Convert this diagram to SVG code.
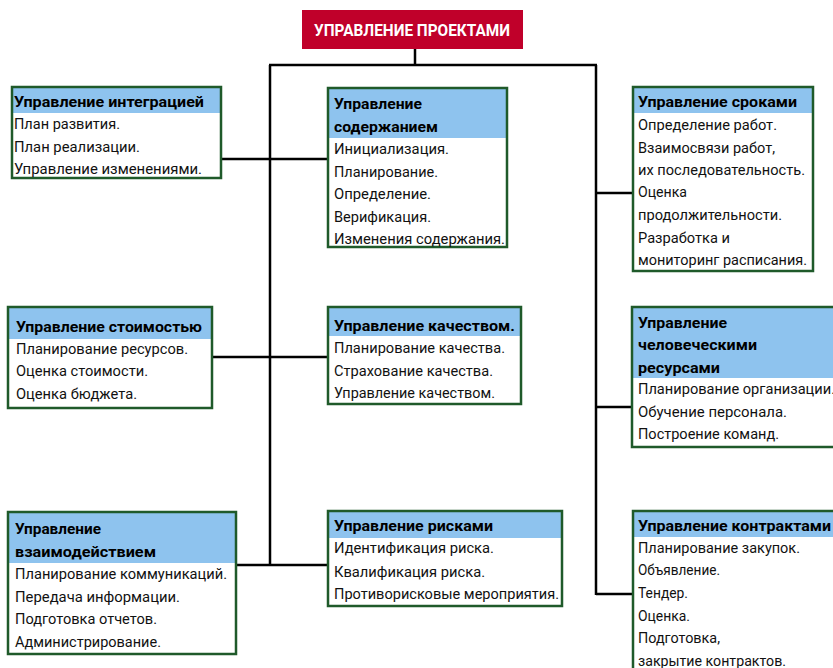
<svg xmlns="http://www.w3.org/2000/svg" width="833" height="668" viewBox="0 0 833 668">
<style>
.bg{fill:#ffffff}
.hd{fill:#8ec3ee}
.bd{fill:none;stroke:#1f5a2a;stroke-width:2.5}
.ln{fill:none;stroke:#000;stroke-width:2.5}
text{font-family:Roboto,"Liberation Sans",sans-serif;font-size:14px;fill:#111}
.h{font-weight:bold;fill:#000}
.ttl{font-weight:bold;font-size:17px;fill:#fff}
</style>
<rect x="0" y="0" width="833" height="668" fill="#fff"/>
<g id="connectors">
<path class="ln" d="M415 49V65M269 65H597M270 65V566M596 65V595M221 159H328M212 357H328M236 565H328M596 193H633M596 407H632M596 594H633"/>
</g>
<g id="title">
<rect x="302" y="10" width="221" height="39" fill="#c0002a"/>
<text class="ttl" x="314" y="36" textLength="196" lengthAdjust="spacingAndGlyphs">УПРАВЛЕНИЕ ПРОЕКТАМИ</text>
</g>
<g id="integration">
<rect class="bg" x="12" y="87" width="209" height="91"/>
<rect class="hd" x="12" y="87" width="209" height="26"/>
<rect class="bd" x="12" y="87" width="209" height="91"/>
<text class="h" x="14" y="107" textLength="190" lengthAdjust="spacingAndGlyphs">Управление интеграцией</text>
<text x="14" y="129" textLength="106" lengthAdjust="spacingAndGlyphs">План развития.</text>
<text x="14" y="152" textLength="126" lengthAdjust="spacingAndGlyphs">План реализации.</text>
<text x="14" y="174" textLength="188" lengthAdjust="spacingAndGlyphs">Управление изменениями.</text>
</g>
<g id="content">
<rect class="bg" x="328" y="88" width="179" height="159"/>
<rect class="hd" x="328" y="88" width="179" height="50"/>
<rect class="bd" x="328" y="88" width="179" height="159"/>
<text class="h" x="334" y="109" textLength="88" lengthAdjust="spacingAndGlyphs">Управление</text>
<text class="h" x="334" y="132" textLength="104" lengthAdjust="spacingAndGlyphs">содержанием</text>
<text x="334" y="154" textLength="115" lengthAdjust="spacingAndGlyphs">Инициализация.</text>
<text x="334" y="177" textLength="104" lengthAdjust="spacingAndGlyphs">Планирование.</text>
<text x="334" y="199" textLength="97" lengthAdjust="spacingAndGlyphs">Определение.</text>
<text x="334" y="222" textLength="97" lengthAdjust="spacingAndGlyphs">Верификация.</text>
<text x="334" y="244" textLength="171" lengthAdjust="spacingAndGlyphs">Изменения содержания.</text>
</g>
<g id="schedule">
<rect class="bg" x="633" y="87" width="180" height="184"/>
<rect class="hd" x="633" y="87" width="180" height="26"/>
<rect class="bd" x="633" y="87" width="180" height="184"/>
<text class="h" x="638" y="107" textLength="159" lengthAdjust="spacingAndGlyphs">Управление сроками</text>
<text x="638" y="130" textLength="139" lengthAdjust="spacingAndGlyphs">Определение работ.</text>
<text x="638" y="153" textLength="137" lengthAdjust="spacingAndGlyphs">Взаимосвязи работ,</text>
<text x="638" y="175" textLength="167" lengthAdjust="spacingAndGlyphs">их последовательность.</text>
<text x="638" y="197" textLength="49" lengthAdjust="spacingAndGlyphs">Оценка</text>
<text x="638" y="220" textLength="144" lengthAdjust="spacingAndGlyphs">продолжительности.</text>
<text x="638" y="243" textLength="92" lengthAdjust="spacingAndGlyphs">Разработка и</text>
<text x="638" y="265" textLength="169" lengthAdjust="spacingAndGlyphs">мониторинг расписания.</text>
</g>
<g id="cost">
<rect class="bg" x="8" y="307" width="204" height="101"/>
<rect class="hd" x="8" y="307" width="204" height="32"/>
<rect class="bd" x="8" y="307" width="204" height="101"/>
<text class="h" x="16" y="332" textLength="186" lengthAdjust="spacingAndGlyphs">Управление стоимостью</text>
<text x="16" y="354" textLength="172" lengthAdjust="spacingAndGlyphs">Планирование ресурсов.</text>
<text x="16" y="376" textLength="132" lengthAdjust="spacingAndGlyphs">Оценка стоимости.</text>
<text x="16" y="399" textLength="121" lengthAdjust="spacingAndGlyphs">Оценка бюджета.</text>
</g>
<g id="quality">
<rect class="bg" x="328" y="307" width="193" height="97"/>
<rect class="hd" x="328" y="307" width="193" height="29"/>
<rect class="bd" x="328" y="307" width="193" height="97"/>
<text class="h" x="334" y="331" textLength="181" lengthAdjust="spacingAndGlyphs">Управление качеством.</text>
<text x="334" y="353" textLength="171" lengthAdjust="spacingAndGlyphs">Планирование качества.</text>
<text x="334" y="376" textLength="159" lengthAdjust="spacingAndGlyphs">Страхование качества.</text>
<text x="334" y="398" textLength="161" lengthAdjust="spacingAndGlyphs">Управление качеством.</text>
</g>
<g id="hr">
<rect class="bg" x="632" y="307" width="220" height="140"/>
<rect class="hd" x="632" y="307" width="220" height="71"/>
<rect class="bd" x="632" y="307" width="220" height="140"/>
<text class="h" x="638" y="328" textLength="89" lengthAdjust="spacingAndGlyphs">Управление</text>
<text class="h" x="638" y="350" textLength="119" lengthAdjust="spacingAndGlyphs">человеческими</text>
<text class="h" x="638" y="373" textLength="82" lengthAdjust="spacingAndGlyphs">ресурсами</text>
<text x="638" y="394" textLength="197" lengthAdjust="spacingAndGlyphs">Планирование организации.</text>
<text x="638" y="417" textLength="149" lengthAdjust="spacingAndGlyphs">Обучение персонала.</text>
<text x="638" y="439" textLength="141" lengthAdjust="spacingAndGlyphs">Построение команд.</text>
</g>
<g id="communication">
<rect class="bg" x="8" y="512" width="228" height="142"/>
<rect class="hd" x="8" y="512" width="228" height="51"/>
<rect class="bd" x="8" y="512" width="228" height="142"/>
<text class="h" x="15" y="534" textLength="86" lengthAdjust="spacingAndGlyphs">Управление</text>
<text class="h" x="15" y="557" textLength="141" lengthAdjust="spacingAndGlyphs">взаимодействием</text>
<text x="15" y="579" textLength="212" lengthAdjust="spacingAndGlyphs">Планирование коммуникаций.</text>
<text x="15" y="602" textLength="165" lengthAdjust="spacingAndGlyphs">Передача информации.</text>
<text x="15" y="624" textLength="142" lengthAdjust="spacingAndGlyphs">Подготовка отчетов.</text>
<text x="15" y="647" textLength="146" lengthAdjust="spacingAndGlyphs">Администрирование.</text>
</g>
<g id="risk">
<rect class="bg" x="328" y="511" width="234" height="95"/>
<rect class="hd" x="328" y="511" width="234" height="27"/>
<rect class="bd" x="328" y="511" width="234" height="95"/>
<text class="h" x="334" y="531" textLength="159" lengthAdjust="spacingAndGlyphs">Управление рисками</text>
<text x="334" y="553" textLength="160" lengthAdjust="spacingAndGlyphs">Идентификация риска.</text>
<text x="334" y="577" textLength="151" lengthAdjust="spacingAndGlyphs">Квалификация риска.</text>
<text x="334" y="599" textLength="225" lengthAdjust="spacingAndGlyphs">Противорисковые мероприятия.</text>
</g>
<g id="contracts">
<rect class="bg" x="633" y="511" width="220" height="170"/>
<rect class="hd" x="633" y="511" width="220" height="26"/>
<rect class="bd" x="633" y="511" width="220" height="170"/>
<text class="h" x="638" y="531" textLength="193" lengthAdjust="spacingAndGlyphs">Управление контрактами</text>
<text x="638" y="553" textLength="162" lengthAdjust="spacingAndGlyphs">Планирование закупок.</text>
<text x="638" y="575" textLength="82" lengthAdjust="spacingAndGlyphs">Объявление.</text>
<text x="638" y="598" textLength="50" lengthAdjust="spacingAndGlyphs">Тендер.</text>
<text x="638" y="621" textLength="52" lengthAdjust="spacingAndGlyphs">Оценка.</text>
<text x="638" y="643" textLength="82" lengthAdjust="spacingAndGlyphs">Подготовка,</text>
<text x="638" y="666" textLength="148" lengthAdjust="spacingAndGlyphs">закрытие контрактов.</text>
</g>
</svg>
